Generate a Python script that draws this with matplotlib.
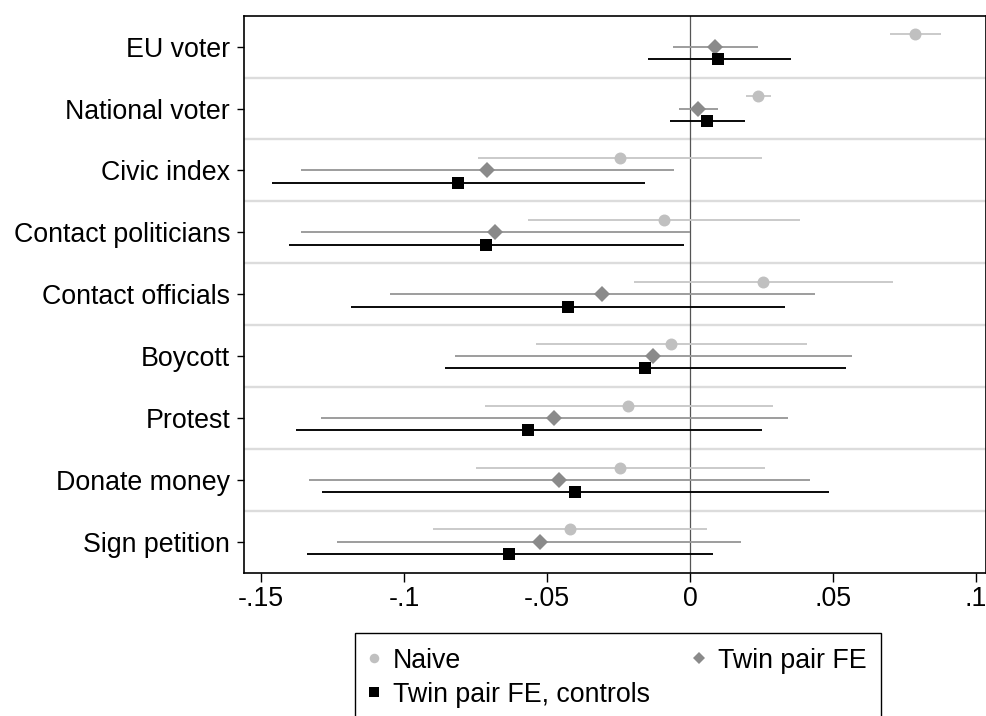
import matplotlib
matplotlib.use("Agg")
from matplotlib import pyplot as plt
from matplotlib.lines import Line2D
from matplotlib.ticker import FixedLocator
import numpy as np

plt.rcParams['font.family'] = ['Liberation Sans', 'DejaVu Sans']

outcomes = ['EU voter', 'National voter', 'Civic index', 'Contact politicians',
            'Contact officials', 'Boycott', 'Protest', 'Donate money', 'Sign petition']

# point estimates and 95% CI bounds
naive_b  = [0.0788, 0.0238, -0.0245, -0.0091, 0.0255, -0.0066, -0.0216, -0.0243, -0.0420]
naive_lo = [0.0700, 0.0194, -0.0740, -0.0565, -0.0197, -0.0538, -0.0718, -0.0747, -0.0899]
naive_hi = [0.0878, 0.0282, 0.0250, 0.0384, 0.0708, 0.0410, 0.0290, 0.0261, 0.0059]

fe_b  = [0.0089, 0.0029, -0.0708, -0.0683, -0.0307, -0.0130, -0.0474, -0.0459, -0.0526]
fe_lo = [-0.0059, -0.0039, -0.1360, -0.1360, -0.1049, -0.0823, -0.1290, -0.1332, -0.1233]
fe_hi = [0.0239, 0.0099, -0.0057, 0.0000, 0.0438, 0.0567, 0.0344, 0.0418, 0.0179]

ctrl_b  = [0.0099, 0.0061, -0.0810, -0.0712, -0.0425, -0.0157, -0.0565, -0.0401, -0.0632]
ctrl_lo = [-0.0148, -0.0071, -0.1460, -0.1403, -0.1184, -0.0858, -0.1378, -0.1285, -0.1339]
ctrl_hi = [0.0352, 0.0191, -0.0157, -0.0022, 0.0332, 0.0546, 0.0251, 0.0487, 0.0079]

xticks = [-0.15, -0.1, -0.05, 0, 0.05, 0.1]
xticklabels = ['-.15', '-.1', '-.05', '0', '.05', '.1']

series = [
    ('Naive', naive_b, naive_lo, naive_hi, -0.2, 'o', 8.6, '#c0c0c0', '#c8c8c8'),
    ('Twin pair FE', fe_b, fe_lo, fe_hi, 0.0, 'D', 7.8, '#8a8a8a', '#999999'),
    ('Twin pair FE, controls', ctrl_b, ctrl_lo, ctrl_hi, 0.2, 's', 8.8, 'black', 'black'),
]

fig = plt.figure(figsize=(9.86, 7.16), dpi=100)
ax = fig.add_axes([0.2475, 0.2001, 0.752, 0.778])

y = np.arange(len(outcomes))

# separators between outcome groups
for k in range(len(outcomes) - 1):
    ax.axhline(k + 0.5, color='#dcdcdc', lw=1.7, zorder=0)
ax.axvline(0, color='#555555', lw=0.9, zorder=1)

handles = {}
for name, b, lo, hi, off, mk, ms, mcol, lcol in series:
    ax.hlines(y + off, lo, hi, color=lcol, lw=1.35, zorder=2)
    ax.plot(b, y + off, linestyle='none', marker=mk, markersize=ms,
            color=mcol, markeredgewidth=0, zorder=3)
    handles[name] = Line2D([], [], linestyle='none', marker=mk, markersize=ms * 0.8,
                           color=mcol, markeredgewidth=0)

ax.set_xlim(-0.1559, 0.1033)
ax.set_ylim(len(outcomes) - 0.5, -0.5)
ax.set_yticks(y)
ax.set_yticklabels(outcomes)
ax.xaxis.set_major_locator(FixedLocator(xticks))
ax.set_xticklabels(xticklabels)
ax.tick_params(axis='y', length=5, width=1, pad=5, labelsize=19.3)
ax.tick_params(axis='x', length=6.5, width=1, pad=3, labelsize=19.3)
for s in ax.spines.values():
    s.set_linewidth(1.2)

order = ['Naive', 'Twin pair FE, controls', 'Twin pair FE']
leg = fig.legend([handles[k] for k in order], order, ncol=2, loc='upper left',
                 bbox_to_anchor=(355 / 986, 1 - 633 / 716), borderaxespad=0,
                 fontsize=19.3, frameon=True, fancybox=False, edgecolor='black',
                 framealpha=1, handlelength=0.3, handletextpad=0.55,
                 columnspacing=1.7, borderpad=0.55, labelspacing=0.3)
leg.get_frame().set_linewidth(1.0)

plt.savefig('out.png', dpi=100)
